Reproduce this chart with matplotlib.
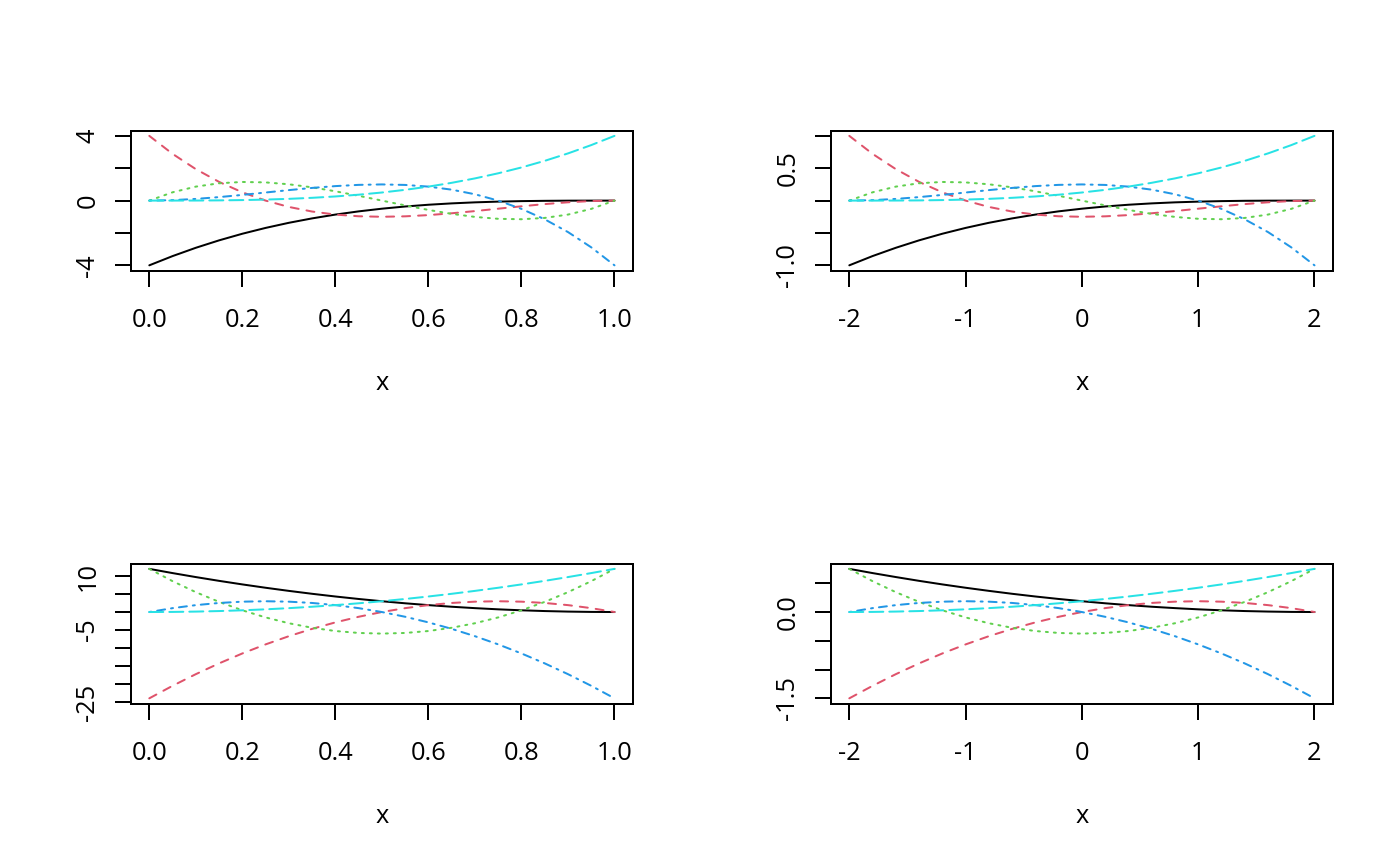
import numpy as np
import matplotlib.pyplot as plt

plt.rcParams['font.family'] = ['Open Sans', 'DejaVu Sans']

# sample positions along each panel's x range
x_unit = np.linspace(0, 1, 21)
x_wide = np.linspace(-2, 2, 21)

# first derivatives, x in [0, 1]
d1_0 = [-4, -3.43, -2.916, -2.457, -2.048, -1.688, -1.372, -1.099, -0.864, -0.666, -0.5,
        -0.365, -0.256, -0.172, -0.108, -0.063, -0.032, -0.014, -0.004, -0.001, 0]
d1_1 = [4, 2.888, 1.944, 1.156, 0.512, 0, -0.392, -0.676, -0.864, -0.968, -1,
        -0.972, -0.896, -0.784, -0.648, -0.5, -0.352, -0.216, -0.104, -0.028, 0]
d1_2 = [0, 0.513, 0.864, 1.071, 1.152, 1.125, 1.008, 0.819, 0.576, 0.297, 0,
        -0.297, -0.576, -0.819, -1.008, -1.125, -1.152, -1.071, -0.864, -0.513, 0]
d1_3 = [0, 0.028, 0.104, 0.216, 0.352, 0.5, 0.648, 0.784, 0.896, 0.972, 1,
        0.968, 0.864, 0.676, 0.392, 0, -0.512, -1.156, -1.944, -2.888, -4]
d1_4 = [0, 0.001, 0.004, 0.014, 0.032, 0.063, 0.108, 0.172, 0.256, 0.365, 0.5,
        0.666, 0.864, 1.099, 1.372, 1.688, 2.048, 2.457, 2.916, 3.43, 4]

# first derivatives, x in [-2, 2]
e1_0 = [-1, -0.857, -0.729, -0.614, -0.512, -0.422, -0.343, -0.275, -0.216, -0.166, -0.125,
        -0.091, -0.064, -0.043, -0.027, -0.016, -0.008, -0.003, -0.001, 0, 0]
e1_1 = [1, 0.722, 0.486, 0.289, 0.128, 0, -0.098, -0.169, -0.216, -0.242, -0.25,
        -0.243, -0.224, -0.196, -0.162, -0.125, -0.088, -0.054, -0.026, -0.007, 0]
e1_2 = [0, 0.128, 0.216, 0.268, 0.288, 0.281, 0.252, 0.205, 0.144, 0.074, 0,
        -0.074, -0.144, -0.205, -0.252, -0.281, -0.288, -0.268, -0.216, -0.128, 0]
e1_3 = [0, 0.007, 0.026, 0.054, 0.088, 0.125, 0.162, 0.196, 0.224, 0.243, 0.25,
        0.242, 0.216, 0.169, 0.098, 0, -0.128, -0.289, -0.486, -0.722, -1]
e1_4 = [0, 0, 0.001, 0.003, 0.008, 0.016, 0.027, 0.043, 0.064, 0.091, 0.125,
        0.166, 0.216, 0.275, 0.343, 0.422, 0.512, 0.614, 0.729, 0.857, 1]

# second derivatives, x in [0, 1]
d2_0 = [12, 10.83, 9.72, 8.67, 7.68, 6.75, 5.88, 5.07, 4.32, 3.63, 3,
        2.43, 1.92, 1.47, 1.08, 0.75, 0.48, 0.27, 0.12, 0.03, 0]
d2_1 = [-24, -20.52, -17.28, -14.28, -11.52, -9, -6.72, -4.68, -2.88, -1.32, 0,
        1.08, 1.92, 2.52, 2.88, 3, 2.88, 2.52, 1.92, 1.08, 0]
d2_2 = [12, 8.58, 5.52, 2.82, 0.48, -1.5, -3.12, -4.38, -5.28, -5.82, -6,
        -5.82, -5.28, -4.38, -3.12, -1.5, 0.48, 2.82, 5.52, 8.58, 12]
d2_3 = [0, 1.08, 1.92, 2.52, 2.88, 3, 2.88, 2.52, 1.92, 1.08, 0,
        -1.32, -2.88, -4.68, -6.72, -9, -11.52, -14.28, -17.28, -20.52, -24]
d2_4 = [0, 0.03, 0.12, 0.27, 0.48, 0.75, 1.08, 1.47, 1.92, 2.43, 3,
        3.63, 4.32, 5.07, 5.88, 6.75, 7.68, 8.67, 9.72, 10.83, 12]

# second derivatives, x in [-2, 2]
e2_0 = [0.75, 0.677, 0.608, 0.542, 0.48, 0.422, 0.368, 0.317, 0.27, 0.227, 0.188,
        0.152, 0.12, 0.092, 0.068, 0.047, 0.03, 0.017, 0.008, 0.002, 0]
e2_1 = [-1.5, -1.283, -1.08, -0.893, -0.72, -0.563, -0.42, -0.293, -0.18, -0.083, 0,
        0.068, 0.12, 0.158, 0.18, 0.188, 0.18, 0.158, 0.12, 0.068, 0]
e2_2 = [0.75, 0.536, 0.345, 0.176, 0.03, -0.094, -0.195, -0.274, -0.33, -0.364, -0.375,
        -0.364, -0.33, -0.274, -0.195, -0.094, 0.03, 0.176, 0.345, 0.536, 0.75]
e2_3 = [0, 0.068, 0.12, 0.158, 0.18, 0.188, 0.18, 0.158, 0.12, 0.068, 0,
        -0.083, -0.18, -0.293, -0.42, -0.563, -0.72, -0.893, -1.08, -1.283, -1.5]
e2_4 = [0, 0.002, 0.008, 0.017, 0.03, 0.047, 0.068, 0.092, 0.12, 0.152, 0.188,
        0.227, 0.27, 0.317, 0.368, 0.422, 0.48, 0.542, 0.608, 0.677, 0.75]

x_ticks_unit = [0, 0.2, 0.4, 0.6, 0.8, 1.0]
x_labels_unit = ['0.0', '0.2', '0.4', '0.6', '0.8', '1.0']
x_ticks_wide = [-2, -1, 0, 1, 2]
x_labels_wide = ['-2', '-1', '0', '1', '2']

colors = ['black', '#DF536B', '#61D04F', '#2297E6', '#28E2E5']
styles = ['-', (0, (4, 4)), (0, (1, 3)), (0, (1, 3, 4, 3)), (0, (7, 3))]

DPI = 192
FS = 9.5
fig = plt.figure(figsize=(1400 / DPI, 866 / DPI), dpi=DPI)


def padded(lo, hi):
    d = (hi - lo) * 0.04
    return lo - d, hi + d


def panel(rect, x, curves, xticks, xlabels, yticks, ylabels):
    ax = fig.add_axes(rect)
    for y, c, ls in zip(curves, colors, styles):
        ax.plot(x, y, color=c, lw=0.75, linestyle=ls,
                dash_capstyle='round', solid_capstyle='round')
    ax.set_xlim(*padded(min(x), max(x)))
    lo = min(min(c) for c in curves)
    hi = max(max(c) for c in curves)
    ax.set_ylim(*padded(lo, hi))
    ax.set_xticks(xticks)
    ax.set_xticklabels(xlabels, fontsize=FS)
    ax.set_yticks(yticks)
    ax.set_yticklabels(ylabels, fontsize=FS, rotation=90, va='center')
    ax.tick_params(axis='both', direction='out', length=5.98, width=0.75)
    ax.tick_params(axis='x', pad=8.2)
    ax.tick_params(axis='y', pad=5.4)
    for s in ax.spines.values():
        s.set_linewidth(0.75)
    ax.set_xlabel('x', fontsize=FS, labelpad=14.2)
    return ax


W, H = 1400, 866
pw, ph = 502.4 / W, 139.8 / H
left_a, left_b = 130.7 / W, 830.7 / W
bot_top, bot_bot = (H - 270.5) / H, (H - 703.5) / H

panel([left_a, bot_top, pw, ph], x_unit, [d1_0, d1_1, d1_2, d1_3, d1_4],
      x_ticks_unit, x_labels_unit, [-4, -2, 0, 2, 4], ['-4', '', '0', '', '4'])
panel([left_b, bot_top, pw, ph], x_wide, [e1_0, e1_1, e1_2, e1_3, e1_4],
      x_ticks_wide, x_labels_wide, [-1, -0.5, 0, 0.5, 1], ['-1.0', '', '', '0.5', ''])
panel([left_a, bot_bot, pw, ph], x_unit, [d2_0, d2_1, d2_2, d2_3, d2_4],
      x_ticks_unit, x_labels_unit, [-25, -20, -15, -10, -5, 0, 5, 10],
      ['-25', '', '', '', '-5', '', '', '10'])
panel([left_b, bot_bot, pw, ph], x_wide, [e2_0, e2_1, e2_2, e2_3, e2_4],
      x_ticks_wide, x_labels_wide, [-1.5, -1, -0.5, 0, 0.5],
      ['-1.5', '', '', '0.0', ''])

fig.savefig('out.png', dpi=DPI)
